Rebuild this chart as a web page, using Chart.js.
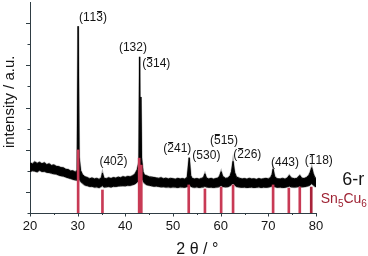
<!DOCTYPE html>
<html><head><meta charset="utf-8">
<script src="https://cdn.jsdelivr.net/npm/chart.js@4/dist/chart.umd.min.js"></script>
<style>html,body{margin:0;padding:0;background:#fff;}canvas{display:block;}</style>
</head><body>
<canvas id="c" width="368" height="256"></canvas>
<script>
// ---- data ----
const twoTheta = [
 20.0,20.5,21.0,21.5,22.0,22.5,23.0,23.5,24.0,24.5,
 25.0,25.5,26.0,26.5,27.0,27.5,28.0,28.5,29.0,29.5,
 29.9,30.1,30.3,30.6,31.0,31.5,32.0,32.5,33.0,33.5,
 34.0,34.5,35.0,35.2,35.5,36.0,36.5,37.0,37.5,38.0,
 38.5,39.0,39.5,40.0,40.5,41.0,41.5,42.0,42.5,42.85,
 43.0,43.12,43.25,43.4,43.7,44.0,44.5,45.0,45.5,46.0,46.5,
 47.0,47.5,48.0,48.5,49.0,49.5,50.0,50.5,51.0,51.5,
 52.0,52.5,53.0,53.4,53.7,54.0,54.5,55.0,55.5,56.0,
 56.4,56.7,57.0,57.5,58.0,58.5,59.0,59.5,59.8,60.1,
 60.4,61.0,61.5,62.0,62.3,62.6,62.9,63.3,64.0,64.5,
 65.0,65.5,66.0,66.5,67.0,67.5,68.0,68.5,69.0,69.5,
 70.0,70.5,70.8,71.0,71.3,71.8,72.5,73.0,73.5,74.0,
 74.4,74.8,75.5,76.0,76.6,77.0,77.5,78.0,78.5,78.8,
 79.1,79.4,79.7,80.0];
// upper edge of the noisy measured trace (a.u.)
const traceUpper = [
 2.38,2.32,2.42,2.35,2.40,2.33,2.38,2.29,2.33,2.25,
 2.28,2.21,2.20,2.15,2.14,2.07,2.06,1.99,2.00,1.93,
 2.03,8.85,2.65,2.02,1.82,1.72,1.68,1.62,1.66,1.61,
 1.64,1.59,1.68,1.90,1.65,1.62,1.67,1.63,1.68,1.65,
 1.70,1.67,1.72,1.69,1.73,1.71,1.76,1.84,2.05,2.40,
 7.40,3.10,5.50,2.60,1.95,1.80,1.76,1.71,1.70,1.68,1.66,
 1.64,1.67,1.62,1.65,1.61,1.64,1.62,1.60,1.64,1.61,
 1.63,1.60,1.70,2.62,1.78,1.64,1.61,1.63,1.60,1.64,
 1.68,1.86,1.66,1.61,1.64,1.60,1.63,1.66,1.76,1.96,
 1.74,1.64,1.66,1.76,1.98,2.45,1.93,1.70,1.64,1.61,
 1.63,1.60,1.64,1.61,1.62,1.59,1.63,1.60,1.62,1.64,
 1.61,1.68,1.83,2.08,1.74,1.62,1.61,1.64,1.60,1.66,
 1.78,1.66,1.62,1.64,1.78,1.65,1.63,1.68,1.78,1.93,
 2.15,1.88,1.70,1.64];
// lower edge of the noisy measured trace (a.u.)
const traceLower = [
 1.96,2.01,1.99,1.95,2.03,1.97,1.98,1.93,1.92,1.89,
 1.86,1.85,1.80,1.77,1.75,1.71,1.67,1.64,1.60,1.57,
 1.56,1.62,1.64,1.50,1.42,1.33,1.30,1.26,1.27,1.23,
 1.24,1.21,1.27,1.30,1.23,1.24,1.26,1.23,1.27,1.26,
 1.28,1.29,1.30,1.29,1.32,1.31,1.34,1.38,1.47,1.60,
 1.80,1.80,1.78,1.70,1.55,1.42,1.34,1.32,1.29,1.27,1.28,
 1.26,1.24,1.25,1.23,1.24,1.22,1.24,1.23,1.21,1.24,
 1.23,1.22,1.26,1.32,1.28,1.24,1.22,1.24,1.21,1.23,
 1.24,1.28,1.24,1.22,1.23,1.21,1.23,1.24,1.27,1.32,
 1.26,1.24,1.25,1.30,1.36,1.42,1.34,1.26,1.23,1.22,
 1.23,1.21,1.22,1.23,1.21,1.22,1.24,1.21,1.23,1.22,
 1.23,1.26,1.29,1.32,1.26,1.22,1.23,1.21,1.22,1.25,
 1.28,1.24,1.23,1.24,1.28,1.24,1.25,1.27,1.30,1.34,
 1.40,1.34,1.28,1.24];
// Sn5Cu6 reference reflections
const refPeaks     = [30.1, 35.2, 42.9, 43.35, 53.3, 56.7, 60.1, 62.6, 71.0, 74.3, 76.6, 79.0];
const refIntensity = [2.99, 1.09, 2.60, 2.27, 1.33, 1.14, 1.23, 1.33, 1.33, 1.18, 1.23, 1.23];
// Miller-index labels ("~" = overline on next digit) and their anchor in data units
const peakLabels       = ['(11~3)','(132)','(~314)','(40~2)','(~241)','(530)','(~515)','(~226)','(443)','(~118)'];
const labelAt2Theta    = [33.1, 41.6, 46.5, 37.5, 50.9, 57.0, 60.7, 65.6, 73.5, 80.5];
const labelAtIntensity = [9.24, 7.82, 7.06, 2.42, 3.03, 2.70, 3.41, 2.75, 2.37, 2.46];
const xTitle = '2 \u03b8 / \u00b0';
const yTitle = 'intensity / a.u.';
const sampleName = '6-r';
const refName = ['Sn','5','Cu','6'];

// ---- styling ----
const AXIS = '#2f3d44';
const FONT = '"Liberation Sans", Arial, sans-serif';
const RED = '#c83a55';
const pts = ys => twoTheta.map((x, i) => ({x, y: ys[i]}));

function drawHkl(ctx, str, cx, cy, size) {
  ctx.font = size + 'px ' + FONT;
  const chars = [];
  for (let i = 0; i < str.length; i++) {
    if (str[i] === '~') { chars.push({c: str[i+1], bar: true}); i++; }
    else chars.push({c: str[i], bar: false});
  }
  const plain = chars.map(o => o.c).join('');
  let x = cx - ctx.measureText(plain).width / 2;
  const base = cy + 0.26 * size;
  ctx.textAlign = 'left'; ctx.textBaseline = 'alphabetic';
  chars.forEach(o => {
    const w = ctx.measureText(o.c).width;
    ctx.fillText(o.c, x, base);
    if (o.bar) ctx.fillRect(x + 0.8, Math.round(base - 0.716 * size - 2), w - 1.6, 1);
    x += w;
  });
}

const annot = {
  id: 'annot',
  afterDraw(chart) {
    const ctx = chart.ctx, xs = chart.scales.x, ys = chart.scales.y, a = chart.chartArea;
    ctx.save();
    ctx.strokeStyle = AXIS; ctx.lineWidth = 1;
    xs.ticks.forEach(t => {
      const px = Math.round(xs.getPixelForValue(t.value)) + 0.5;
      const len = t.value % 10 === 0 ? 3.5 : 2;
      ctx.beginPath(); ctx.moveTo(px, a.bottom); ctx.lineTo(px, a.bottom + len); ctx.stroke();
    });
    ys.ticks.forEach(t => {
      if (t.value >= ys.max) return;
      const py = Math.round(ys.getPixelForValue(t.value)) + 0.5;
      const len = t.value % 2 === 1 ? 4 : 2.5;
      ctx.beginPath(); ctx.moveTo(a.left - len, py); ctx.lineTo(a.left, py); ctx.stroke();
    });
    ctx.fillStyle = '#151515';
    peakLabels.forEach((s, i) => {
      drawHkl(ctx, s, xs.getPixelForValue(labelAt2Theta[i]), ys.getPixelForValue(labelAtIntensity[i]), 12);
    });
    // sample name
    ctx.font = '18px ' + FONT; ctx.textAlign = 'center'; ctx.textBaseline = 'alphabetic';
    ctx.fillText(sampleName, xs.getPixelForValue(87.8), ys.getPixelForValue(1.33));
    // reference name with subscripts
    ctx.fillStyle = '#9e2233'; ctx.textAlign = 'left';
    let x = xs.getPixelForValue(81.0);
    const base = ys.getPixelForValue(0.47);
    refName.forEach((p, i) => {
      const sub = i % 2 === 1;
      ctx.font = (sub ? 10 : 14) + 'px ' + FONT;
      ctx.fillText(p, x, base + (sub ? 3.5 : 0));
      x += ctx.measureText(p).width;
    });
    // axis titles
    ctx.fillStyle = '#151515';
    ctx.font = '16px ' + FONT; ctx.textAlign = 'center';
    ctx.fillText(xTitle, xs.getPixelForValue(55.1), 254);
    ctx.save();
    ctx.translate(14, ys.getPixelForValue(5.27));
    ctx.rotate(-Math.PI / 2);
    ctx.font = '15px ' + FONT; ctx.textAlign = 'center'; ctx.textBaseline = 'alphabetic';
    ctx.fillText(yTitle, 0, 0);
    ctx.restore();
    ctx.restore();
  }
};

new Chart(document.getElementById('c'), {
  type: 'line',
  data: {
    datasets: [
      {data: pts(traceUpper), borderColor: '#000', borderWidth: 1, pointRadius: 0, fill: false, order: 2, tension: 0},
      {data: pts(traceLower), borderColor: '#000', borderWidth: 1, pointRadius: 0, fill: '-1', backgroundColor: '#000', order: 2, tension: 0},
      {data: pts(traceUpper), borderColor: 'rgba(110,110,110,0.55)', borderWidth: 2.2, pointRadius: 0, fill: false, order: 3},
      {data: pts(traceLower), borderColor: 'rgba(110,110,110,0.55)', borderWidth: 2.2, pointRadius: 0, fill: false, order: 3},
      {type: 'bar', data: refPeaks.map((x, i) => ({x, y: refIntensity[i]})),
       backgroundColor: refPeaks.map(x => x > 78 ? '#a8233a' : RED),
       barThickness: 2, borderWidth: 0, order: 1}
    ]
  },
  options: {
    responsive: false, animation: false, devicePixelRatio: 1,
    layout: {padding: {top: 2, right: 52, left: 0, bottom: 0}},
    plugins: {legend: {display: false}, tooltip: {enabled: false}},
    scales: {
      x: {type: 'linear', min: 20, max: 80, offset: false,
          ticks: {stepSize: 5, autoSkip: false, maxRotation: 0, padding: 6, color: '#151515',
                  font: {size: 13, family: FONT},
                  callback: v => (v % 10 === 0 ? String(v) : '')},
          grid: {display: false, drawTicks: false},
          border: {display: true, color: AXIS, width: 1},
          afterFit: s => { s.height = 43; }},
      y: {min: 0, max: 10,
          ticks: {display: false, stepSize: 1},
          grid: {display: false, drawTicks: false},
          border: {display: true, color: AXIS, width: 1},
          afterFit: s => { s.width = 30; }}
    }
  },
  plugins: [annot]
});
</script>
</body></html>
